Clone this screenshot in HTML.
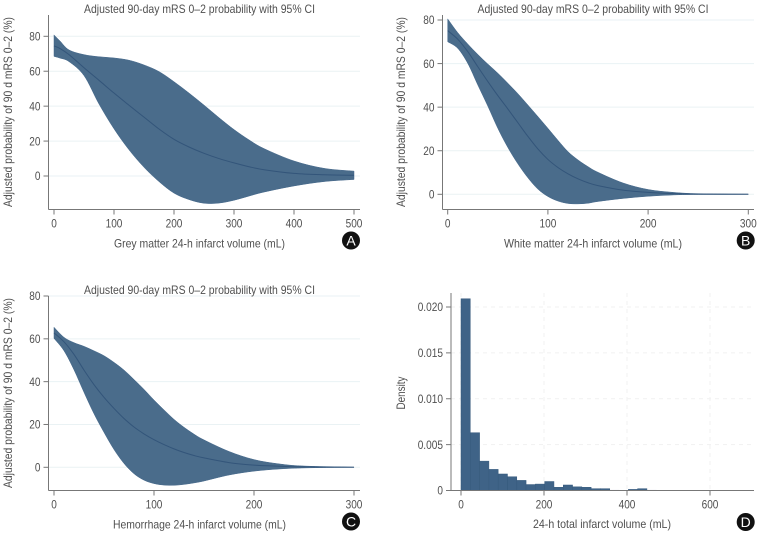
<!DOCTYPE html>
<html lang="en">
<head>
<meta charset="utf-8">
<title>Adjusted 90-day mRS 0-2 probability</title>
<style>
html,body{margin:0;padding:0;background:#fff;width:760px;height:535px;overflow:hidden}
svg{display:block}
text{font-family:"Liberation Sans",sans-serif;fill:#505050}
</style>
</head>
<body>
<svg id="figure" width="760" height="535" viewBox="0 0 760 535" xmlns="http://www.w3.org/2000/svg"></svg>
<script>
// Panel A: grey matter
const aVolume = [0, 10, 25, 50, 75, 100, 125, 150, 175, 200, 225, 250, 275, 300, 325, 350, 400, 450, 500];
const aUpper  = [80.8, 77.3, 72.2, 69.5, 68.3, 67.6, 66.3, 63.6, 59.8, 54, 47.5, 40.6, 33.4, 26.6, 20.7, 15.7, 8.6, 4.4, 2.8];
const aMean   = [74.5, 73, 69.5, 62, 54.8, 47.5, 40.5, 33.7, 26.9, 21, 16.6, 13, 10, 7.5, 5.3, 3.6, 1.5, 0.7, 0.4];
const aLower  = [68.5, 67.5, 65.5, 57.5, 41.2, 27, 15, 5, -3.2, -9.8, -13.5, -15.6, -15.5, -13.9, -11.5, -9.2, -5.7, -3.2, -2];
// Panel B: white matter
const bVolume = [0, 10, 20, 30, 40, 50, 60, 70, 80, 90, 100, 110, 120, 130, 140, 150, 175, 200, 225, 250, 300];
const bUpper  = [80.5, 74.2, 69, 64.2, 59.8, 55.6, 51, 46.2, 41, 35.7, 30.3, 24.8, 19.6, 15.8, 12.7, 10.1, 5.2, 2.2, 0.9, 0.3, 0.1];
const bMean   = [75.1, 71.2, 65.5, 58.6, 51.8, 45.3, 39.2, 32.9, 26.6, 20.8, 16, 12.3, 9.4, 7.1, 5.3, 4, 1.9, 0.9, 0.3, 0.1, 0];
const bLower  = [70, 67, 60.1, 50.2, 40.5, 30.3, 21.5, 14, 7.6, 2.4, -1, -3.1, -4.2, -4.4, -4.1, -3.3, -1.9, -0.9, -0.3, -0.1, 0];
// Panel C: hemorrhage
const cVolume = [0, 10, 20, 30, 40, 50, 60, 70, 80, 90, 100, 110, 120, 130, 140, 150, 175, 200, 225, 250, 300];
const cUpper  = [65.4, 60.7, 58.2, 56.5, 54.4, 52.1, 49, 45.4, 41, 36.4, 31.4, 26.8, 22.4, 18.7, 15.5, 12.8, 7.4, 3.6, 1.6, 0.6, 0.1];
const cMean   = [62.8, 58.6, 52.7, 45.4, 38.6, 32.7, 27.5, 22.8, 18.8, 15.6, 12.9, 10.6, 8.6, 6.9, 5.5, 4.4, 2.2, 1, 0.5, 0.2, 0];
const cLower  = [60.2, 54.4, 45.5, 35, 25, 16.3, 8.3, 1.8, -3, -6, -7.6, -8.3, -8.4, -8, -7.3, -6.4, -3.6, -1.8, -0.8, -0.3, 0];
// Panel D: histogram
const dBinWidth = 22.4;
const dDensity = [0.0209, 0.0063, 0.0032, 0.0023, 0.0018, 0.0015, 0.0011, 0.00065, 0.0007, 0.00098, 0.00035, 0.0006, 0.0004, 0.00035, 0.0002, 0.0002, 0.00003, 0, 0.00012, 0.0002, 0.00003];
// Tick labels
const aXTicks = [0, 100, 200, 300, 400, 500];
const bcXTicks = [0, 100, 200, 300];
const abcYTicks = [0, 20, 40, 60, 80];
const dXTicks = [0, 200, 400, 600];
const dYTicks = [0, 0.005, 0.010, 0.015, 0.020];
const dYLabels = ["0", "0.005", "0.010", "0.015", "0.020"];

const NS = "http://www.w3.org/2000/svg";
const root = document.getElementById("figure");

function make(parent, tag, attrs) {
  const el = document.createElementNS(NS, tag);
  for (const k in attrs) el.setAttribute(k, attrs[k]);
  parent.appendChild(el);
  return el;
}
function label(parent, str, x, y, size, width, anchor, name) {
  const t = make(parent, "text", {x: x, y: y, "font-size": size, "text-anchor": anchor, textLength: width, lengthAdjust: "spacingAndGlyphs"});
  
  
  t.textContent = str;
  return t;
}
function numWidth(s) {
  let w = 0;
  for (const c of String(s)) w += c === "." ? 2.9 : 5.6;
  return w;
}
function linear(d0, d1, r0, r1) {
  return v => r0 + (v - d0) / (d1 - d0) * (r1 - r0);
}
function smooth(pts, move) {
  let d = (move ? "M" : "L") + pts[0][0].toFixed(2) + " " + pts[0][1].toFixed(2);
  for (let i = 0; i < pts.length - 1; i++) {
    const p0 = pts[Math.max(i - 1, 0)], p1 = pts[i], p2 = pts[i + 1], p3 = pts[Math.min(i + 2, pts.length - 1)];
    const c1x = p1[0] + (p2[0] - p0[0]) / 6, c1y = p1[1] + (p2[1] - p0[1]) / 6;
    const c2x = p2[0] - (p3[0] - p1[0]) / 6, c2y = p2[1] - (p3[1] - p1[1]) / 6;
    d += "C" + c1x.toFixed(2) + " " + c1y.toFixed(2) + " " + c2x.toFixed(2) + " " + c2y.toFixed(2) + " " + p2[0].toFixed(2) + " " + p2[1].toFixed(2);
  }
  return d;
}
function axes(g, c, xTicks, yTicks) {
  for (const v of yTicks) {
    const y = c.sy(v);
    const grid = make(g, "line", {x1: c.left, x2: c.right, y1: y, y2: y, stroke: c.grid, "stroke-width": 1, "stroke-dasharray": c.dash || "none"});
    
    
  }
  if (c.dash) {
    for (const v of xTicks) {
      const x = c.sx(v);
      const grid = make(g, "line", {x1: x, x2: x, y1: c.top, y2: c.bottom, stroke: c.grid, "stroke-width": 1, "stroke-dasharray": c.dash});
      
      
    }
  }
}
function axisLines(g, c, xTicks, yTicks, yLabels) {
  const ya = make(g, "line", {x1: c.left, x2: c.left, y1: c.top, y2: c.bottom, stroke: "#777", "stroke-width": 1});
  
  
  const xa = make(g, "line", {x1: c.left, x2: c.right, y1: c.bottom, y2: c.bottom, stroke: "#777", "stroke-width": 1});
  
  
  yTicks.forEach((v, i) => {
    const y = c.sy(v);
    const tick = make(g, "line", {x1: c.left - 5, x2: c.left, y1: y, y2: y, stroke: "#777", "stroke-width": 1});
    
    
    const s = yLabels ? yLabels[i] : String(v);
    label(g, s, c.left - 8, y + 4.2, 12, numWidth(s), "end", "y-tick-label");
  });
  for (const v of xTicks) {
    const x = c.sx(v);
    const tick = make(g, "line", {x1: x, x2: x, y1: c.bottom, y2: c.bottom + 5, stroke: "#777", "stroke-width": 1});
    
    
    label(g, String(v), x, c.bottom + 18, 12, numWidth(v), "middle", "x-tick-label");
  }
}
function band(g, c, xs, upper, mean, lower) {
  const up = xs.map((v, i) => [c.sx(v), c.sy(upper[i])]);
  const lo = xs.map((v, i) => [c.sx(v), c.sy(lower[i])]).reverse();
  const area = make(g, "path", {d: smooth(up, true) + smooth(lo, false) + "Z", fill: "#4a6c8b", stroke: "#44678a", "stroke-width": 0.5});
  
  
  const m = xs.map((v, i) => [c.sx(v), c.sy(mean[i])]);
  const line = make(g, "path", {d: smooth(m, true), fill: "none", stroke: "#33557a", "stroke-width": 1});
  
  
}
function badge(g, letter, x, y) {
  const c = make(g, "circle", {cx: x, cy: y, r: 9, fill: "#111"});
  
  
  const t = make(g, "text", {x: x, y: y + 5, "font-size": 14, "text-anchor": "middle", style: "fill:#fff"});
  
  
  t.textContent = letter;
}
function yTitle(g, str, x, cy, width) {
  const t = label(g, str, 0, 0, 12, width, "middle", "y-axis-title");
  t.setAttribute("transform", "translate(" + x + " " + cy + ") rotate(-90)");
}
function curvePanel(name, o) {
  const g = make(root, "g", {});
  
  
  const c = {left: o.left, right: o.right, top: o.top, bottom: o.bottom, grid: "#eaf2f4",
    sx: linear(0, o.xMax, o.x0, o.x1), sy: linear(0, 80, o.y0, o.y80)};
  axes(g, c, o.xTicks, abcYTicks);
  band(g, c, o.xs, o.upper, o.mean, o.lower);
  axisLines(g, c, o.xTicks, abcYTicks);
  label(g, "Adjusted 90-day mRS 0\u20132 probability with 95% CI", o.cx, o.titleY, 12, 231, "middle", "chart-title");
  label(g, o.xTitle, o.cx, o.bottom + 38, 12, o.xTitleW, "middle", "x-axis-title");
  yTitle(g, "Adjusted probability of 90 d mRS 0\u20132 (%)", o.yTitleX, o.yTitleC, 190);
  badge(g, o.letter, o.badgeX, o.bottom + 31);
}

curvePanel("panel-a-grey-matter", {left: 48.5, right: 360, top: 15, bottom: 209.5, x0: 54, x1: 354, xMax: 500, y0: 176, y80: 36.3,
  xTicks: aXTicks, xs: aVolume, upper: aUpper, mean: aMean, lower: aLower, cx: 199.5, titleY: 13,
  xTitle: "Grey matter 24-h infarct volume (mL)", xTitleW: 171, yTitleX: 12, yTitleC: 112, letter: "A", badgeX: 351});
curvePanel("panel-b-white-matter", {left: 442.5, right: 754, top: 15, bottom: 209.5, x0: 447.7, x1: 748.3, xMax: 300, y0: 194.3, y80: 20,
  xTicks: bcXTicks, xs: bVolume, upper: bUpper, mean: bMean, lower: bLower, cx: 593, titleY: 13,
  xTitle: "White matter 24-h infarct volume (mL)", xTitleW: 178, yTitleX: 405, yTitleC: 112, letter: "B", badgeX: 745.7});
curvePanel("panel-c-hemorrhage", {left: 48.5, right: 360, top: 296, bottom: 490.5, x0: 54, x1: 354, xMax: 300, y0: 467.3, y80: 296,
  xTicks: bcXTicks, xs: cVolume, upper: cUpper, mean: cMean, lower: cLower, cx: 199.5, titleY: 294,
  xTitle: "Hemorrhage 24-h infarct volume (mL)", xTitleW: 173, yTitleX: 12, yTitleC: 393, letter: "C", badgeX: 351});

(function () {
  const g = make(root, "g", {});
  
  
  const c = {left: 451, right: 754, top: 293, bottom: 490.5, grid: "#f1f1f1", dash: "4 4",
    sx: linear(0, 600, 461, 710), sy: linear(0, 0.02, 490.5, 307)};
  axes(g, c, dXTicks, dYTicks.slice(1));
  dDensity.forEach((v, i) => {
    const x0 = c.sx(i * dBinWidth), x1 = c.sx((i + 1) * dBinWidth);
    const bar = make(g, "rect", {x: x0, y: c.sy(v), width: x1 - x0, height: c.bottom - c.sy(v), fill: "#3f6387", stroke: "#365a7d", "stroke-width": 0.5});
    
    
  });
  axisLines(g, c, dXTicks, dYTicks, dYLabels);
  label(g, "24-h total infarct volume (mL)", 602, 528, 12, 138, "middle", "x-axis-title");
  yTitle(g, "Density", 405, 393, 33);
  badge(g, "D", 745.7, 522);
})();
</script>
</body>
</html>
